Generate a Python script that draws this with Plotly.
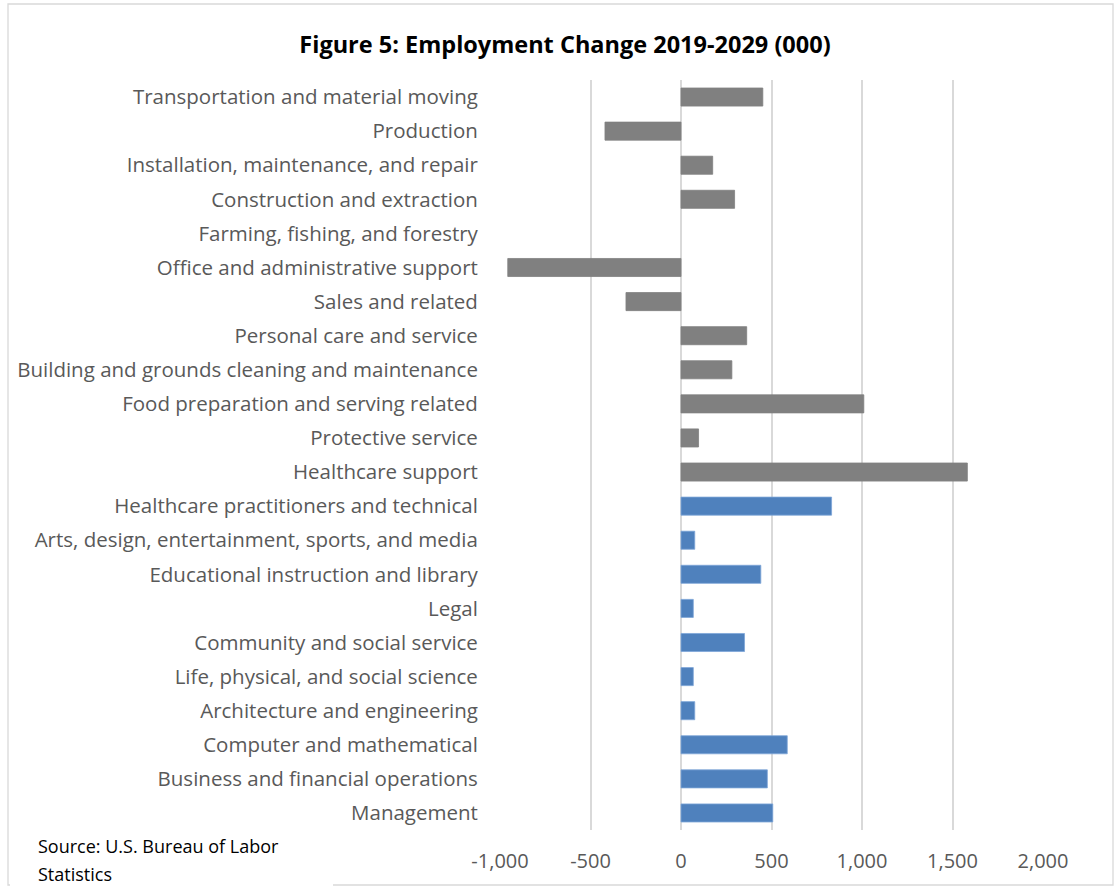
import plotly.graph_objects as go

# Occupational groups, listed top to bottom as displayed
occupations = [
    "Transportation and material moving",
    "Production",
    "Installation, maintenance, and repair",
    "Construction and extraction",
    "Farming, fishing, and forestry",
    "Office and administrative support",
    "Sales and related",
    "Personal care and service",
    "Building and grounds cleaning and maintenance",
    "Food preparation and serving related",
    "Protective service",
    "Healthcare support",
    "Healthcare practitioners and technical",
    "Arts, design, entertainment, sports, and media",
    "Educational instruction and library",
    "Legal",
    "Community and social service",
    "Life, physical, and social science",
    "Architecture and engineering",
    "Computer and mathematical",
    "Business and financial operations",
    "Management",
]

# Projected employment change, 2019-2029, thousands of jobs
change_000 = [452, -420, 175, 296, 0, -957, -304, 363, 281, 1010, 97, 1582,
              832, 76, 441, 68, 351, 68, 76, 587, 477, 507]

# Occupation class: professional groups in blue, the rest in grey
group = ["other"] * 12 + ["professional"] * 10

x_ticks = [-1000, -500, 0, 500, 1000, 1500, 2000]
x_tick_labels = ["-1,000", "-500", "0", "500", "1,000", "1,500", "2,000"]

source_lines = ["Source: U.S. Bureau of Labor", "Statistics"]

W, H = 1118, 886
L, R, T, B = 500, 1043, 80, 830

palette = {"professional": "#4f81bd", "other": "#808080"}
outline = {"professional": "#7ea6d8", "other": "#808080"}

FONT = "Open Sans, Lato, sans-serif"


def px_x(p):
    return (p - L) / (R - L)


def px_y(p):
    return (B - p) / (B - T)


fig = go.Figure(
    go.Bar(
        x=change_000,
        y=occupations,
        orientation="h",
        marker=dict(
            color=[palette[g] for g in group],
            line=dict(
                color=[outline[g] for g in group],
                width=[0.8 if v != 0 else 0 for v in change_000],
            ),
        ),
        width=0.53,
        hoverinfo="x+y",
    )
)

fig.update_layout(
    width=W,
    height=H,
    margin=dict(l=L, r=W - R, t=T, b=H - B, pad=0),
    paper_bgcolor="white",
    plot_bgcolor="white",
    showlegend=False,
    font=dict(family=FONT, color="#595959", size=20),
    title=dict(
        text="<b>Figure 5: Employment Change 2019-2029 (000)</b>",
        x=565 / W,
        xanchor="center",
        y=1 - 45 / H,
        yanchor="middle",
        font=dict(family=FONT, size=23.5, color="#000000"),
    ),
    xaxis=dict(
        range=[-1000, 2000],
        tickvals=x_ticks,
        ticktext=x_tick_labels,
        showgrid=True,
        gridcolor="#d9d9d9",
        gridwidth=2,
        zeroline=True,
        zerolinecolor="#d9d9d9",
        zerolinewidth=2,
        showline=False,
        ticks="outside",
        ticklen=13,
        tickcolor="rgba(0,0,0,0)",
        tickfont=dict(size=20, color="#595959"),
        fixedrange=True,
    ),
    yaxis=dict(
        autorange="reversed",
        categoryorder="array",
        categoryarray=occupations,
        showgrid=False,
        showline=False,
        zeroline=False,
        ticks="outside",
        ticklen=17,
        tickcolor="rgba(0,0,0,0)",
        tickfont=dict(size=20.5, color="#595959"),
        fixedrange=True,
    ),
    shapes=[
        # chart border
        dict(
            type="rect", xref="paper", yref="paper",
            x0=px_x(8), x1=px_x(1113), y0=px_y(885), y1=px_y(4),
            line=dict(color="#d9d9d9", width=1.3), fillcolor="rgba(0,0,0,0)",
            layer="below",
        ),
        # source text box backdrop
        dict(
            type="rect", xref="paper", yref="paper",
            x0=px_x(10), x1=px_x(333), y0=px_y(888), y1=px_y(832),
            line=dict(width=0), fillcolor="white", layer="above",
        ),
    ],
    annotations=[
        dict(
            text=line,
            xref="paper", yref="paper",
            x=px_x(36), y=px_y(yc),
            xanchor="left", yanchor="middle", align="left",
            showarrow=False,
            font=dict(family=FONT, size=18, color="#000000"),
        )
        for line, yc in zip(source_lines, [846, 874])
    ],
)

fig.write_html("out.html")
